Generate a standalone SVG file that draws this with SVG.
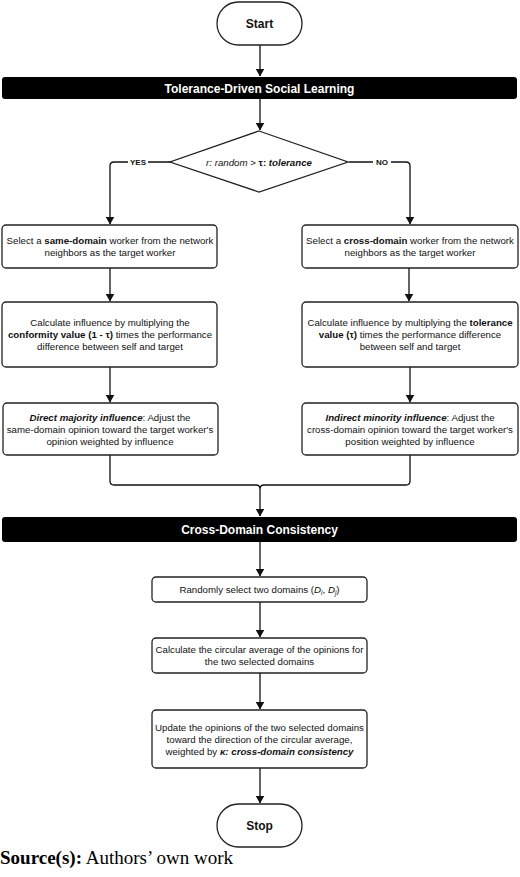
<svg xmlns="http://www.w3.org/2000/svg" width="520" height="877" viewBox="0 0 520 877">
<style>
.box{fill:#fff;stroke:#222;stroke-width:1.3}
.banner{fill:#000}
.t{font-family:"Liberation Sans",Arial,sans-serif;font-size:9.7px;fill:#111;text-anchor:middle}
.tb{font-family:"Liberation Sans",Arial,sans-serif;font-size:12px;font-weight:bold;fill:#111;text-anchor:middle}
.bt{font-family:"Liberation Sans",Arial,sans-serif;font-size:12px;font-weight:bold;fill:#fff;text-anchor:middle}
.lbl{font-family:"Liberation Sans",Arial,sans-serif;font-size:8px;font-weight:bold;fill:#111;text-anchor:middle}
.b{font-weight:bold}
.i{font-style:italic}
.bi{font-weight:bold;font-style:italic}
.c{fill:none;stroke:#111;stroke-width:1.3}
.src{font-family:"Liberation Serif","Times New Roman",serif;font-size:19px;fill:#000}
</style>
<defs>
<marker id="ah" markerWidth="8" markerHeight="9" refX="7.5" refY="4.5" orient="auto" markerUnits="userSpaceOnUse">
<path d="M0,0 L8,4.5 L0,9 Z" fill="#111"/>
</marker>
</defs>

<g id="connectors">
<path class="c" d="M260,45 V76" marker-end="url(#ah)"/>
<path class="c" d="M260,99 V130" marker-end="url(#ah)"/>
<path class="c" d="M171,162 H114 Q110,162 110,166 V224" marker-end="url(#ah)"/>
<path class="c" d="M349,162 H406 Q410,162 410,166 V224" marker-end="url(#ah)"/>
<path class="c" d="M110,268 V301" marker-end="url(#ah)"/>
<path class="c" d="M409,268 V301" marker-end="url(#ah)"/>
<path class="c" d="M110,367 V402" marker-end="url(#ah)"/>
<path class="c" d="M410,367 V402" marker-end="url(#ah)"/>
<path class="c" d="M110,455 V481 Q110,485 114,485 H256 Q260,485 260,489 Q260,485 264,485 H406 Q410,485 410,481 V455"/>
<path class="c" d="M260,489 V516" marker-end="url(#ah)"/>
<path class="c" d="M260,542 V576" marker-end="url(#ah)"/>
<path class="c" d="M260,602 V637" marker-end="url(#ah)"/>
<path class="c" d="M260,673 V709" marker-end="url(#ah)"/>
<path class="c" d="M260,768 V803" marker-end="url(#ah)"/>
<g id="label-yes"><rect x="128" y="157" width="20" height="10" fill="#fff"/><text class="lbl" x="138" y="165">YES</text></g>
<g id="label-no"><rect x="373" y="157" width="18" height="10" fill="#fff"/><text class="lbl" x="382" y="165">NO</text></g>
</g>

<g id="start">
<rect class="box" x="217" y="2" width="85" height="43" rx="21.5"/>
<text class="tb" x="259.5" y="27.5">Start</text>
</g>

<g id="banner1">
<rect class="banner" x="2" y="77" width="515" height="22" rx="3"/>
<text class="bt" x="259.5" y="92.5">Tolerance-Driven Social Learning</text>
</g>

<g id="decision">
<polygon class="box" points="259,131 348,162 259,192 170,162"/>
<text class="t" x="259" y="165.5"><tspan class="i">r: random</tspan> &gt; <tspan class="b">τ: </tspan><tspan class="bi">tolerance</tspan></text>
</g>

<g id="left1">
<rect class="box" x="2" y="225" width="215" height="43" rx="4"/>
<text class="t" x="110" y="244">Select a <tspan class="b">same-domain</tspan> worker from the network</text>
<text class="t" x="110" y="256">neighbors as the target worker</text>
</g>

<g id="left2">
<rect class="box" x="2" y="302" width="215" height="65" rx="4"/>
<text class="t" x="110" y="325.5">Calculate influence by multiplying the</text>
<text class="t" x="110" y="337.5"><tspan class="b">conformity value (1 - τ)</tspan> times the performance</text>
<text class="t" x="110" y="349.5">difference between self and target</text>
</g>

<g id="left3">
<rect class="box" x="3" y="403" width="215" height="52" rx="4"/>
<text class="t" x="110" y="420.5"><tspan class="bi">Direct majority influence</tspan>: Adjust the</text>
<text class="t" x="110" y="432.5">same-domain opinion toward the target worker's</text>
<text class="t" x="110" y="444.5">opinion weighted by influence</text>
</g>

<g id="right1">
<rect class="box" x="302" y="225" width="216" height="43" rx="4"/>
<text class="t" x="410" y="244">Select a <tspan class="b">cross-domain</tspan> worker from the network</text>
<text class="t" x="410" y="256">neighbors as the target worker</text>
</g>

<g id="right2">
<rect class="box" x="302" y="302" width="216" height="65" rx="4"/>
<text class="t" x="410" y="325.5">Calculate influence by multiplying the <tspan class="b">tolerance</tspan></text>
<text class="t" x="410" y="337.5"><tspan class="b">value (τ)</tspan> times the performance difference</text>
<text class="t" x="410" y="349.5">between self and target</text>
</g>

<g id="right3">
<rect class="box" x="302" y="403" width="216" height="52" rx="4"/>
<text class="t" x="410" y="420.5"><tspan class="bi">Indirect minority influence</tspan>: Adjust the</text>
<text class="t" x="410" y="432.5">cross-domain opinion toward the target worker's</text>
<text class="t" x="410" y="444.5">position weighted by influence</text>
</g>

<g id="banner2">
<rect class="banner" x="2" y="517" width="515" height="25" rx="3"/>
<text class="bt" x="259.5" y="533.5">Cross-Domain Consistency</text>
</g>

<g id="select-domains">
<rect class="box" x="152" y="577" width="215" height="25" rx="4"/>
<text class="t" x="259.5" y="593">Randomly select two domains (<tspan class="i">D</tspan><tspan class="i" font-size="6.5" dy="1.5">i</tspan><tspan dy="-1.5">, </tspan><tspan class="i">D</tspan><tspan class="i" font-size="6.5" dy="1.5">j</tspan><tspan dy="-1.5">)</tspan></text>
</g>

<g id="circular-average">
<rect class="box" x="152" y="638" width="215" height="35" rx="4"/>
<text class="t" x="259.5" y="653">Calculate the circular average of the opinions for</text>
<text class="t" x="259.5" y="665">the two selected domains</text>
</g>

<g id="update">
<rect class="box" x="152" y="710" width="215" height="58" rx="4"/>
<text class="t" x="259.5" y="730.5">Update the opinions of the two selected domains</text>
<text class="t" x="259.5" y="742.5">toward the direction of the circular average,</text>
<text class="t" x="259.5" y="754.5">weighted by <tspan class="bi">κ: cross-domain consistency</tspan></text>
</g>

<g id="stop">
<rect class="box" x="217" y="804" width="85" height="43" rx="21.5"/>
<text class="tb" x="259.5" y="829.5">Stop</text>
</g>

<text class="src" x="0" y="864"><tspan font-weight="bold">Source(s):</tspan> Authors’ own work</text>
</svg>
